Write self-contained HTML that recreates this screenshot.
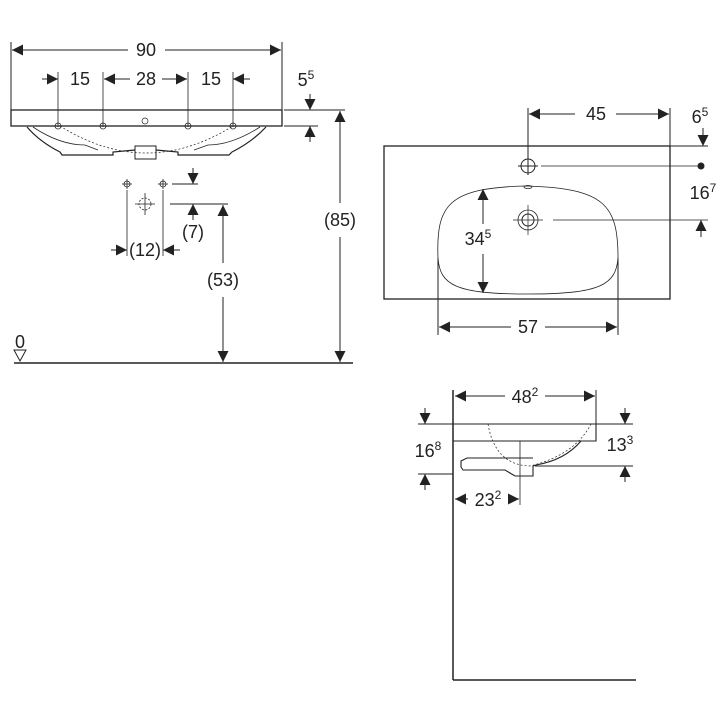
<!DOCTYPE html>
<html><head><meta charset="utf-8"><style>
html,body{margin:0;padding:0;background:#fff}
svg{display:block}
text{font-family:"Liberation Sans",sans-serif;fill:#222}
</style></head><body>
<svg width="720" height="720" viewBox="0 0 720 720" xmlns="http://www.w3.org/2000/svg">
<defs>
<marker id="a" viewBox="0 0 10 10" refX="10" refY="5" markerWidth="11" markerHeight="11" markerUnits="userSpaceOnUse" orient="auto-start-reverse"><path d="M0,0 L10,5 L0,10z" fill="#222"/></marker>
</defs>
<g stroke="#222" stroke-width="1" fill="none">
<!-- LEFT VIEW -->
<line x1="11" y1="42" x2="11" y2="110"/><line x1="282" y1="42" x2="282" y2="110"/>
<line x1="12" y1="50" x2="128" y2="50" marker-start="url(#a)"/><line x1="165" y1="50" x2="281" y2="50" marker-end="url(#a)"/>
<rect x="11" y="110" width="271" height="16" stroke-width="1.3"/>
<path d="M27,127 Q40,142 60,152 L62,155 L113,155 L113,152 L135,150 M156,150 L178,152 L178,155 L229,155 L232,152 Q252,142 266,127" stroke-width="1.2"/>
<path d="M33,127 Q60,145 85,145 L98,150 M260,127 Q232,145 208,145 L194,150" stroke-width="0.8"/>
<rect x="135" y="146" width="21" height="13"/>
<path d="M60,126 Q146,180 233,126" stroke-dasharray="2,2" stroke-width="0.7"/>
<circle cx="145" cy="121" r="3" stroke-width="0.7"/>
<g stroke-width="0.8">
<line x1="58" y1="72" x2="58" y2="127"/><line x1="103" y1="72" x2="103" y2="127"/><line x1="188" y1="72" x2="188" y2="127"/><line x1="233" y1="72" x2="233" y2="127"/>
<circle cx="58" cy="126" r="3"/><circle cx="103" cy="126" r="3"/><circle cx="188" cy="126" r="3"/><circle cx="233" cy="126" r="3"/>
</g>
<line x1="42" y1="79" x2="58" y2="79" marker-end="url(#a)"/>
<line x1="250" y1="79" x2="233" y2="79" marker-end="url(#a)"/>
<line x1="104" y1="79" x2="130" y2="79" marker-start="url(#a)"/><line x1="162" y1="79" x2="187" y2="79" marker-end="url(#a)"/>
<line x1="284" y1="110" x2="345" y2="110"/><line x1="284" y1="126" x2="318" y2="126"/>
<line x1="310" y1="94" x2="310" y2="110" marker-end="url(#a)"/>
<line x1="310" y1="142" x2="310" y2="126" marker-end="url(#a)"/>
<line x1="340" y1="111" x2="340" y2="203" marker-start="url(#a)"/><line x1="340" y1="237" x2="340" y2="362" marker-end="url(#a)"/>
<g stroke-width="0.8">
<circle cx="127" cy="184" r="3"/><line x1="122" y1="184" x2="132" y2="184"/><line x1="127" y1="179" x2="127" y2="189"/>
<circle cx="163" cy="184" r="3"/><line x1="158" y1="184" x2="168" y2="184"/><line x1="163" y1="179" x2="163" y2="189"/>
<circle cx="145" cy="204" r="6" stroke-dasharray="2,1.5"/><line x1="135" y1="204" x2="155" y2="204"/><line x1="145" y1="193" x2="145" y2="215"/>
<line x1="127" y1="190" x2="127" y2="256"/><line x1="163" y1="190" x2="163" y2="256"/>
</g>
<line x1="111" y1="250" x2="127" y2="250" marker-end="url(#a)"/>
<line x1="180" y1="250" x2="163" y2="250" marker-end="url(#a)"/>
<line x1="172" y1="184" x2="198" y2="184"/><line x1="170" y1="204" x2="228" y2="204"/>
<line x1="193" y1="168" x2="193" y2="184" marker-end="url(#a)"/>
<line x1="193" y1="220" x2="193" y2="204" marker-end="url(#a)"/>
<line x1="223" y1="205" x2="223" y2="263" marker-start="url(#a)"/><line x1="223" y1="297" x2="223" y2="362" marker-end="url(#a)"/>
<line x1="14" y1="363" x2="353" y2="363" stroke-width="1.5"/>
<path d="M14,350 L26,350 L20,361z"/>
<!-- TOP VIEW -->
<rect x="384" y="146" width="286" height="153" stroke-width="1.3"/>
<line x1="528" y1="108" x2="528" y2="160"/><line x1="670" y1="108" x2="670" y2="146"/>
<line x1="529" y1="114" x2="575" y2="114" marker-start="url(#a)"/><line x1="616" y1="114" x2="669" y2="114" marker-end="url(#a)"/>
<line x1="670" y1="146" x2="708" y2="146"/>
<line x1="703" y1="128" x2="703" y2="146" marker-end="url(#a)"/>
<circle cx="528" cy="166" r="7"/><line x1="518" y1="166" x2="538" y2="166"/><line x1="528" y1="158" x2="528" y2="175"/>
<line x1="541" y1="166" x2="702" y2="166" stroke-width="0.8"/>
<circle cx="701" cy="166" r="3" fill="#222"/>
<path d="M438,258 C436,205 448,188 525,186 C605,188 618,205 618,258 C616,285 600,294 528,294 C455,294 440,285 438,258z" stroke-width="0.8"/>
<ellipse cx="528" cy="187" rx="4" ry="1.5" stroke-width="0.7"/>
<circle cx="528" cy="220" r="10" stroke-width="0.8"/><circle cx="528" cy="220" r="6"/>
<line x1="513" y1="220" x2="543" y2="220" stroke-width="0.7"/><line x1="528" y1="205" x2="528" y2="235" stroke-width="0.7"/>
<line x1="553" y1="220" x2="708" y2="220" stroke-width="0.8"/>
<line x1="701" y1="237" x2="701" y2="220" marker-end="url(#a)"/>
<line x1="483" y1="189" x2="483" y2="224" marker-start="url(#a)"/><line x1="483" y1="254" x2="483" y2="293" marker-end="url(#a)"/>
<line x1="438" y1="258" x2="438" y2="335"/><line x1="618" y1="258" x2="618" y2="335"/>
<line x1="439" y1="327" x2="511" y2="327" marker-start="url(#a)"/><line x1="545" y1="327" x2="617" y2="327" marker-end="url(#a)"/>
<!-- SIDE VIEW -->
<line x1="453" y1="390" x2="453" y2="680" stroke-width="1.5"/>
<line x1="453" y1="680" x2="636" y2="680" stroke-width="1.5"/>
<line x1="596" y1="390" x2="596" y2="424"/>
<line x1="455" y1="396" x2="505" y2="396" marker-start="url(#a)"/><line x1="545" y1="396" x2="595" y2="396" marker-end="url(#a)"/>
<path d="M453,424 L596,424 L596,441 L581,441 Q565,460 536,465 L533,466 L533,476 L515,476 L505,470 L463,470 L461,467 L461,461 L467,458 L533,458" stroke-width="1.1"/>
<line x1="453" y1="441" x2="581" y2="441" stroke-width="1.1"/>
<path d="M488,424 Q495,465 530,466 Q575,455 591,424" stroke-dasharray="2,2" stroke-width="0.7"/>
<line x1="520" y1="441" x2="520" y2="505" stroke-width="0.8"/>
<line x1="418" y1="424" x2="453" y2="424"/><line x1="596" y1="424" x2="633" y2="424"/>
<line x1="418" y1="474" x2="453" y2="474"/><line x1="535" y1="466" x2="633" y2="466"/>
<line x1="425" y1="408" x2="425" y2="424" marker-end="url(#a)"/>
<line x1="625" y1="408" x2="625" y2="424" marker-end="url(#a)"/>
<line x1="425" y1="490" x2="425" y2="474" marker-end="url(#a)"/>
<line x1="625" y1="482" x2="625" y2="466" marker-end="url(#a)"/>
<line x1="455" y1="499" x2="468" y2="499" marker-start="url(#a)"/><line x1="508" y1="499" x2="519" y2="499" marker-end="url(#a)"/>
</g>
<g font-size="18" text-anchor="middle">
<text x="146" y="56">90</text>
<text x="80" y="85">15</text><text x="146" y="85">28</text><text x="211" y="85">15</text>
<text x="306" y="86">5<tspan font-size="12" dy="-7">5</tspan></text>
<text x="340" y="226">(85)</text>
<text x="145" y="256">(12)</text>
<text x="193" y="238">(7)</text>
<text x="223" y="286">(53)</text>
<text x="20" y="348">0</text>
<text x="596" y="120">45</text>
<text x="700" y="123">6<tspan font-size="12" dy="-7">5</tspan></text>
<text x="703" y="199">16<tspan font-size="12" dy="-7">7</tspan></text>
<text x="478" y="245">34<tspan font-size="12" dy="-7">5</tspan></text>
<text x="528" y="333">57</text>
<text x="525" y="403">48<tspan font-size="12" dy="-7">2</tspan></text>
<text x="428" y="457">16<tspan font-size="12" dy="-7">8</tspan></text>
<text x="620" y="451">13<tspan font-size="12" dy="-7">3</tspan></text>
<text x="488" y="506">23<tspan font-size="12" dy="-7">2</tspan></text>
</g>
</svg>
</body></html>
